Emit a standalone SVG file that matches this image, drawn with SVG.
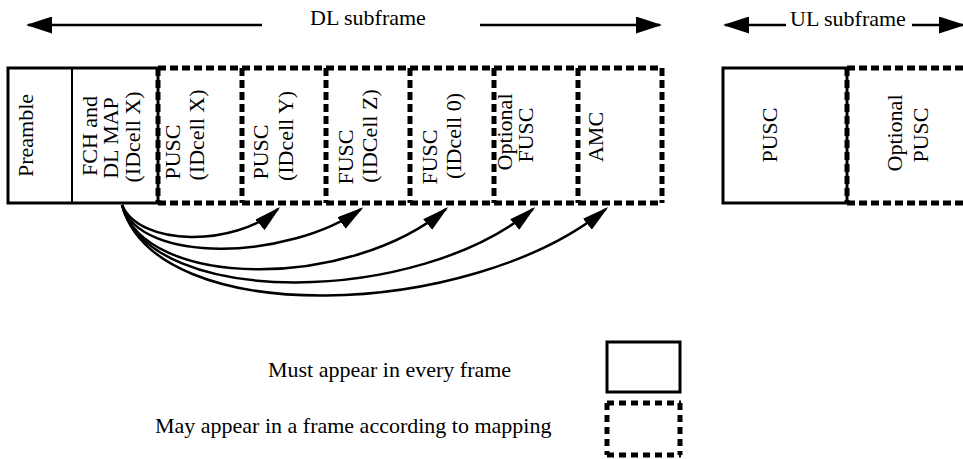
<svg xmlns="http://www.w3.org/2000/svg" width="963" height="459" viewBox="0 0 963 459">
<style>
text{font-family:"Liberation Serif","Times New Roman",serif;font-size:22px;fill:#000}
.v{text-anchor:middle}
.solid{fill:none;stroke:#000;stroke-width:3}
.thin{fill:none;stroke:#000;stroke-width:2}
.dash{fill:none;stroke:#000;stroke-width:5;stroke-dasharray:8 4}
.arc{fill:none;stroke:#000;stroke-width:2.5;marker-end:url(#ah)}
.hdr{fill:none;stroke:#000;stroke-width:2.5}
</style>
<defs>
<marker id="ah" viewBox="0 0 27 14" refX="24" refY="7" markerWidth="27" markerHeight="14" markerUnits="userSpaceOnUse" orient="auto">
<path d="M0,0 L27,7 L0,14 Z" fill="#000"/>
</marker>
<marker id="hh" viewBox="0 0 26 17" refX="24" refY="8.5" markerWidth="26" markerHeight="17" markerUnits="userSpaceOnUse" orient="auto">
<path d="M0,0 L26,8.5 L0,17 Z" fill="#000"/>
</marker>
</defs>
<rect width="963" height="459" fill="#fff"/>

<g id="header">
<line class="hdr" x1="262" y1="25" x2="28" y2="25" marker-end="url(#hh)"/>
<text x="310" y="25">DL subframe</text>
<line class="hdr" x1="480" y1="25" x2="660" y2="25" marker-end="url(#hh)"/>
<line class="hdr" x1="786" y1="25" x2="725" y2="25" marker-end="url(#hh)"/>
<text x="790" y="26">UL subframe</text>
<line class="hdr" x1="912" y1="25" x2="963" y2="25" marker-end="url(#hh)"/>
</g>

<g id="preamble">
<path class="solid" d="M72,68 H8 V203 H72"/>
<line class="thin" x1="72" y1="68" x2="72" y2="203"/>
<text class="v" transform="translate(33,135.5) rotate(-90)">Preamble</text>
</g>

<g id="fch">
<path class="solid" d="M72,68 H158 V203 H72"/>
<text class="v" transform="translate(97,136) rotate(-90)">FCH and</text>
<text class="v" transform="translate(118,138) rotate(-90)">DL MAP</text>
<text class="v" transform="translate(140,137) rotate(-90)">(IDcell X)</text>
</g>

<g id="pusc-x">
<path class="dash" d="M158,68 H242 M158,203 H242 M158,68 V203"/>
<text class="v" transform="translate(180,152) rotate(-90)">PUSC</text>
<text class="v" transform="translate(204,135) rotate(-90)">(IDcell X)</text>
</g>

<g id="pusc-y">
<path class="dash" d="M242,68 H326 M242,203 H326 M242,68 V203"/>
<text class="v" transform="translate(268,152) rotate(-90)">PUSC</text>
<text class="v" transform="translate(293,136) rotate(-90)">(IDcell Y)</text>
</g>

<g id="fusc-z">
<path class="dash" d="M326,68 H410 M326,203 H410 M326,68 V203"/>
<text class="v" transform="translate(353,157) rotate(-90)">FUSC</text>
<text class="v" transform="translate(377,136) rotate(-90)">(IDCell Z)</text>
</g>

<g id="fusc-0">
<path class="dash" d="M410,68 H494 M410,203 H494 M410,68 V203"/>
<text class="v" transform="translate(437,157) rotate(-90)">FUSC</text>
<text class="v" transform="translate(461,136) rotate(-90)">(IDcell 0)</text>
</g>

<g id="optional-fusc">
<path class="dash" d="M494,68 H578 M494,203 H578 M494,68 V203"/>
<text class="v" transform="translate(512,132) rotate(-90)">Optional</text>
<text class="v" transform="translate(533,135) rotate(-90)">FUSC</text>
</g>

<g id="amc">
<path class="dash" d="M578,68 H662 M578,203 H662 M578,68 V203 M662,68 V203"/>
<text class="v" transform="translate(603,137) rotate(-90)">AMC</text>
</g>

<g id="ul-pusc">
<rect class="solid" x="723" y="68" width="124" height="135"/>
<text class="v" transform="translate(777,135) rotate(-90)">PUSC</text>
</g>

<g id="ul-optional-pusc">
<path class="dash" d="M847,68 H971 M847,203 H971 M847,68 V203"/>
<text class="v" transform="translate(902,133) rotate(-90)">Optional</text>
<text class="v" transform="translate(928,135) rotate(-90)">PUSC</text>
</g>

<g id="connectors">
<path class="arc" d="M122,205 C140,247 235,247 278,209"/>
<path class="arc" d="M122,205 C140,265 290,260 361,209"/>
<path class="arc" d="M122,205 C145,290 350,290 446,209"/>
<path class="arc" d="M122,205 C150,310 420,305 533,209"/>
<path class="arc" d="M122,205 C155,330 470,320 606,209"/>
</g>

<g id="legend">
<text x="268" y="377">Must appear in every frame</text>
<rect class="solid" x="607" y="342" width="73" height="50"/>
<text x="155" y="433">May appear in a frame according to mapping</text>
<path class="dash" d="M607,403 H681 M607,455 H681 M607,403 V455 M680,403 V455" style="stroke-dasharray:7 5"/>
</g>
</svg>
